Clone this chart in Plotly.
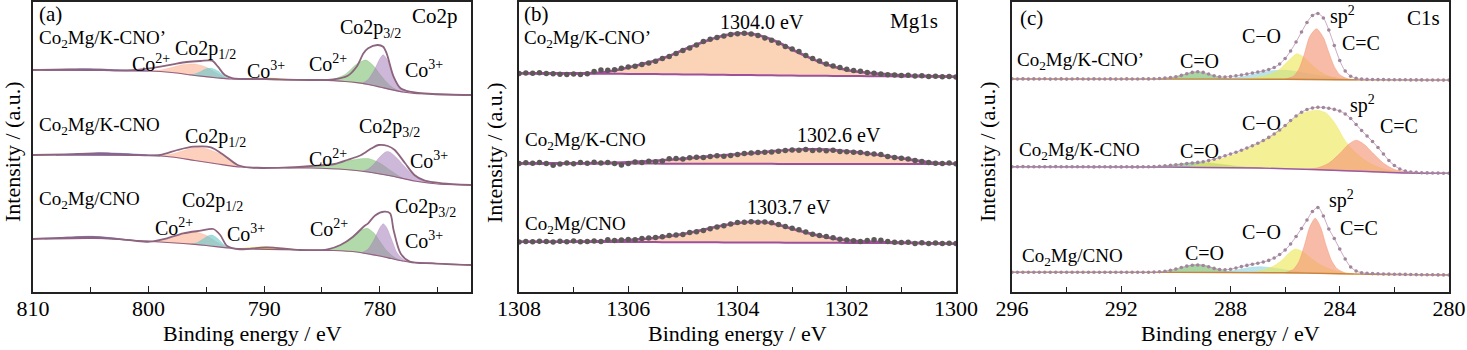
import plotly.graph_objects as go

W, H = 1467, 350
FONT = "Liberation Serif"

# ================= Panel (a): Co2p =================
# --- top: Co2Mg/K-CNO' ---
a1_env_x = [810, 807, 804.2, 801.9, 799.9, 797.9, 796.7, 795.5, 794.5, 794.0, 793.4, 792.7, 789.8, 785.4, 784.0, 782.8, 782.0, 781.4, 781.0, 780.2, 779.7, 779.4, 778.8, 778.2, 777.4, 775.4, 772.1]
a1_env_y = [222, 222.6, 222.3, 221.6, 223.7, 227.7, 230, 231, 231.3, 225.3, 217, 213.7, 213, 212, 212.7, 216, 225.3, 238.7, 243.7, 247, 245.3, 238.7, 215.3, 203.7, 200.3, 198, 197]
a1_bg_x = [810, 804, 800, 798, 796, 794, 793, 790, 785, 784, 783, 782, 781, 780, 779, 778, 777, 775, 772.1]
a1_bg_y = [221.8, 221.5, 221, 219.5, 216.5, 214, 213, 212.5, 211.8, 211.3, 210.5, 209.3, 207.5, 205, 202.3, 200, 198.7, 197.8, 197]
a1_blue_x = [809, 807, 805.5, 804, 802, 800]
a1_blue_lo = [221.8, 221.7, 221.6, 221.5, 221.3, 221.0]
a1_blue_h = [0, 1.0, 1.6, 1.3, 0.6, 0]
a1_orange_x = [800, 799, 798, 797, 796, 795, 794, 793]
a1_orange_lo = [221, 220.4, 219.5, 218, 216.5, 215.2, 214, 213]
a1_orange_h = [0, 1.5, 5, 9.5, 11.5, 9.5, 4, 0]
a1_teal_x = [796.5, 796, 795.5, 795, 794.5, 794, 793.5, 793]
a1_teal_lo = [217.2, 216.5, 215.8, 215.2, 214.6, 214, 213.5, 213]
a1_teal_h = [0, 1.5, 4.5, 8, 9, 7, 3, 0]
a1_yellow_x = [791.5, 790.5, 789.5, 788.5, 787.5]
a1_yellow_lo = [212.8, 212.6, 212.5, 212.3, 212.2]
a1_yellow_h = [0, 1, 1.5, 0.8, 0]
a1_green_x = [785, 784, 783, 782, 781.2, 780.5, 780, 779.5, 779, 778.5, 778]
a1_green_lo = [211.8, 211.3, 210.5, 209.3, 207.9, 206.2, 205, 203.6, 202.3, 201, 200]
a1_green_h = [0, 1.5, 7, 18.5, 24, 19.5, 13, 7.5, 3.2, 1, 0]
a1_purple_x = [781.5, 781, 780.5, 780, 779.7, 779.4, 779, 778.5, 778, 777.5]
a1_purple_lo = [208.4, 207.5, 206.2, 205, 204.2, 203.3, 202.3, 201, 200, 199.3]
a1_purple_h = [0, 5, 15, 28, 33, 30, 20, 7, 2, 0]

# --- middle: Co2Mg/K-CNO ---
a2_env_x = [810, 807.1, 804.2, 801.3, 799, 797.5, 796.1, 794.6, 793.5, 792.3, 791.2, 788.3, 785.9, 783.9, 782.8, 781.6, 780.7, 780.1, 779.3, 778.7, 777.8, 777.0, 776.1, 774.6, 772.1]
a2_env_y = [137, 137.7, 138.7, 137, 137, 142, 145.3, 144.7, 137, 127, 124.3, 124.3, 126, 128, 132, 137, 143.7, 147, 146, 142, 128.7, 117, 111.3, 108.7, 107]
a2_bg_x = [810, 800, 798, 796, 794, 792, 790, 786, 783, 781, 779, 777, 775, 772.1]
a2_bg_y = [137, 136.5, 135, 131.5, 128, 125, 124.5, 124, 122.5, 120, 116, 111, 108, 107]
a2_blue_x = [808, 806, 804, 802, 800, 799]
a2_blue_lo = [136.9, 136.8, 136.7, 136.6, 136.5, 136.2]
a2_blue_h = [0, 1.5, 2.5, 1.8, 0.6, 0]
a2_orange_x = [799, 798, 797, 796, 795.5, 795, 794, 793, 792.5, 792]
a2_orange_lo = [136.2, 135, 133.3, 131.5, 130.6, 129.8, 128, 126.5, 125.7, 125]
a2_orange_h = [0, 3, 8, 13, 14, 13.5, 11, 7, 3, 0]
a2_green_x = [788, 787, 786, 785, 784, 783, 782, 781, 780, 779, 778]
a2_green_lo = [124.3, 124.2, 124, 123.5, 123, 122.5, 121.3, 120, 118, 116, 113.5]
a2_green_h = [0, 0.5, 1.5, 3, 5, 8, 11.5, 13.5, 11, 5, 0]
a2_purple_x = [781.5, 781, 780.5, 780, 779.5, 779.3, 779, 778.5, 778, 777.5, 777, 776.5, 776, 775.5]
a2_purple_lo = [120.6, 120, 119, 118, 117, 116.6, 116, 114.8, 113.5, 112.2, 111, 110, 109.3, 108.6]
a2_purple_h = [0, 3, 9, 17, 23, 24, 23, 19, 14, 9, 5, 2.5, 1, 0]

# --- bottom: Co2Mg/CNO ---
a3_env_x = [810, 807.1, 804.2, 801.3, 799.9, 798.4, 797.0, 795.5, 794.4, 793.8, 793.2, 792.1, 789.8, 786.9, 784.5, 783.4, 782.3, 781.4, 781.0, 780.4, 779.6, 779.1, 778.8, 778.2, 777.4, 775.4, 772.1]
a3_env_y = [53, 54.3, 54.7, 51.3, 50.3, 53.7, 58.7, 61.3, 63, 57, 46, 42.7, 44.7, 42, 42.7, 47, 55.3, 65.3, 68.7, 76.5, 80.3, 78.7, 62, 38.7, 30.3, 28.7, 27]
a3_bg_x = [810, 804, 801, 799, 797, 795, 793, 791, 786, 784, 782, 780, 779, 778, 777, 775, 772.1]
a3_bg_y = [53, 53.5, 51.5, 50, 48.5, 46.5, 44, 43, 42, 41.5, 40, 36, 33.5, 31, 29.5, 28.5, 27]
a3_blue_x = [809, 807, 805, 803, 801.5]
a3_blue_lo = [53.1, 53.3, 53.5, 52.8, 51.8]
a3_blue_h = [0, 1.5, 2.2, 1.2, 0]
a3_orange_x = [799.5, 798.5, 797.5, 796.5, 795.9, 795, 794, 793]
a3_orange_lo = [50.4, 49.6, 48.9, 48, 47.4, 46.5, 45.3, 44]
a3_orange_h = [0, 3, 8, 12, 12.5, 10, 4, 0]
a3_teal_x = [796.3, 795.8, 795.3, 794.8, 794.5, 794, 793.5, 793]
a3_teal_lo = [47.8, 47.3, 46.8, 46.3, 45.9, 45.3, 44.6, 44]
a3_teal_h = [0, 2, 6, 10, 11, 8, 3, 0]
a3_yellow_x = [792, 791, 790, 789, 788, 787]
a3_yellow_lo = [43.5, 43, 42.8, 42.6, 42.4, 42.2]
a3_yellow_h = [0, 1.5, 2.5, 2, 1, 0]
a3_green_x = [785, 784, 783, 782, 781.1, 780.5, 780, 779.5, 779, 778.5, 778]
a3_green_lo = [41.8, 41.5, 40.8, 40, 38.2, 37, 36, 34.8, 33.5, 32.2, 31]
a3_green_h = [0, 2.5, 8.5, 19, 25.5, 22, 15, 8, 3.5, 1, 0]
a3_purple_x = [781.5, 781, 780.5, 780, 779.7, 779.4, 779, 778.5, 778, 777.5]
a3_purple_lo = [39, 38, 37, 36, 35.3, 34.5, 33.5, 32.2, 31, 30.2]
a3_purple_h = [0, 5, 15, 28, 33, 30, 20, 7, 2, 0]

# ================= Panel (b): Mg1s =================
b_fit_x = [1308, 1307.75, 1307.5, 1307.25, 1307, 1306.75, 1306.5, 1306.25, 1306, 1305.75, 1305.5, 1305.25, 1305, 1304.75, 1304.5, 1304.25, 1304, 1303.75, 1303.5, 1303.25, 1303, 1302.75, 1302.5, 1302.25, 1302, 1301.75, 1301.5, 1301.25, 1301, 1300.75, 1300.5, 1300.25, 1300]
b1_fit = [218.7, 218.7, 218.6, 218.6, 218.6, 218.8, 219.5, 221.5, 224.5, 227.8, 231.5, 236, 242, 247.5, 252.5, 256.5, 258.6, 258.2, 255, 249.5, 242.5, 236, 230, 225.5, 222, 220, 218.6, 217.6, 216.8, 216.3, 215.9, 215.6, 215.3]
b1_bg = [218.6, 218.5, 218.5, 218.4, 218.4, 218.3, 218.3, 218.2, 218.1, 218.0, 217.9, 217.8, 217.6, 217.5, 217.3, 217.2, 217.0, 216.9, 216.7, 216.6, 216.4, 216.3, 216.2, 216.1, 216.0, 215.9, 215.8, 215.7, 215.6, 215.5, 215.4, 215.35, 215.3]
b2_fit = [128.6, 128.6, 128.6, 128.6, 128.7, 128.8, 129, 129.3, 129.8, 130.4, 131.2, 132.2, 133.3, 134.5, 135.7, 136.8, 137.8, 138.8, 140, 141.2, 142.2, 142.7, 142.6, 141.9, 140.8, 139.4, 137.7, 135.8, 133.8, 131.6, 129.8, 128.6, 128.2]
b2_bg = [128.6, 128.6, 128.6, 128.5, 128.5, 128.5, 128.5, 128.4, 128.4, 128.4, 128.4, 128.3, 128.3, 128.3, 128.3, 128.2, 128.2, 128.2, 128.2, 128.1, 128.1, 128.1, 128.1, 128.0, 128.0, 128.0, 128.0, 127.9, 127.9, 127.9, 127.9, 127.9, 127.9]
b3_fit = [50.3, 50.3, 50.3, 50.3, 50.4, 50.5, 50.8, 51.3, 52, 53, 54.3, 56, 58, 60.8, 63.8, 66.8, 69, 70.2, 69.8, 67.2, 63.3, 59.5, 56.2, 53.6, 51.8, 50.8, 50.2, 49.8, 49.5, 49.2, 48.8, 48.5, 48.2]
b3_bg = [50.3, 50.3, 50.2, 50.2, 50.2, 50.1, 50.1, 50.0, 50.0, 49.9, 49.9, 49.8, 49.8, 49.7, 49.7, 49.6, 49.6, 49.5, 49.4, 49.4, 49.3, 49.3, 49.2, 49.2, 49.1, 49.0, 49.0, 48.9, 48.8, 48.7, 48.5, 48.4, 48.2]

b_dot_x = [1308.0, 1307.875, 1307.75, 1307.625, 1307.5, 1307.375, 1307.25, 1307.125, 1307.0, 1306.875, 1306.75, 1306.625, 1306.5, 1306.375, 1306.25, 1306.125, 1306.0, 1305.875, 1305.75, 1305.625, 1305.5, 1305.375, 1305.25, 1305.125, 1305.0, 1304.875, 1304.75, 1304.625, 1304.5, 1304.375, 1304.25, 1304.125, 1304.0, 1303.875, 1303.75, 1303.625, 1303.5, 1303.375, 1303.25, 1303.125, 1303.0, 1302.875, 1302.75, 1302.625, 1302.5, 1302.375, 1302.25, 1302.125, 1302.0, 1301.875, 1301.75, 1301.625, 1301.5, 1301.375, 1301.25, 1301.125, 1301.0, 1300.875, 1300.75, 1300.625, 1300.5, 1300.375, 1300.25, 1300.125, 1300.0]
b1_dots = [218.5, 219.0, 218.8, 219.2, 218.6, 218.3, 217.8, 217.5, 218.0, 217.6, 218.2, 220.5, 222.0, 221.8, 222.3, 223.8, 225.0, 225.8, 227.5, 229.0, 230.8, 233.5, 235.5, 238.5, 241.5, 244.0, 247.0, 250.5, 252.8, 254.5, 256.0, 257.5, 258.3, 258.8, 258.0, 256.5, 254.0, 251.8, 249.0, 245.5, 243.0, 240.5, 236.5, 233.5, 231.0, 228.0, 226.0, 224.5, 222.8, 221.5, 220.8, 219.5, 218.8, 218.0, 217.2, 217.0, 216.5, 216.8, 216.0, 216.3, 215.5, 215.8, 215.2, 215.6, 215.0]
b2_dots = [128.5, 129.2, 128.8, 129.5, 128.6, 126.8, 128.0, 129.0, 128.3, 129.4, 128.7, 129.8, 128.9, 129.6, 128.4, 126.9, 128.6, 130.0, 129.6, 130.8, 130.2, 131.0, 133.2, 133.6, 133.0, 134.3, 134.8, 134.4, 135.6, 136.2, 135.8, 136.6, 137.4, 138.6, 139.0, 139.4, 139.8, 140.0, 140.8, 141.6, 142.0, 141.8, 142.4, 141.6, 142.0, 141.2, 141.7, 140.6, 140.2, 139.8, 139.6, 138.4, 138.0, 137.6, 135.4, 134.6, 133.8, 133.0, 131.5, 130.4, 129.6, 128.8, 128.4, 128.9, 128.2]
b3_dots = [50.0, 50.6, 50.2, 50.8, 50.4, 50.0, 50.7, 50.3, 50.9, 50.2, 50.6, 51.0, 50.4, 52.2, 51.4, 52.0, 52.6, 52.2, 53.4, 54.0, 54.6, 55.2, 56.4, 57.0, 57.6, 59.4, 60.2, 61.6, 63.2, 65.0, 66.2, 68.0, 69.4, 69.8, 70.2, 69.8, 70.0, 69.2, 67.4, 65.6, 63.8, 62.2, 60.0, 57.8, 56.6, 55.4, 54.2, 52.8, 52.0, 51.2, 50.6, 51.4, 52.2, 51.8, 50.6, 49.8, 49.4, 49.8, 48.6, 49.2, 48.4, 49.0, 48.6, 48.8, 48.4]

# ================= Panel (c): C1s =================
c_x = [296.0, 295.8, 295.6, 295.4, 295.2, 295.0, 294.8, 294.6, 294.4, 294.2, 294.0, 293.8, 293.6, 293.4, 293.2, 293.0, 292.8, 292.6, 292.4, 292.2, 292.0, 291.8, 291.6, 291.4, 291.2, 291.0,
       290.8, 290.6, 290.4, 290.2, 290.0, 289.8, 289.6, 289.4, 289.2, 289.0, 288.8, 288.6, 288.4, 288.2, 288.0, 287.8, 287.6, 287.4, 287.2, 287.0, 286.8, 286.6, 286.4, 286.2, 286.0,
       285.8, 285.6, 285.4, 285.2, 285.0, 284.8, 284.6, 284.4, 284.2, 284.0, 283.8, 283.6, 283.4, 283.2, 283.0, 282.8, 282.6, 282.4, 282.2, 282.0, 281.8, 281.6, 281.4, 281.2, 281.0,
       280.8, 280.6, 280.4, 280.2, 280.0]
c1_dots = [213.2, 213.0, 213.1, 212.9, 213.1, 213.0, 213.2, 212.9, 213.0, 213.1, 212.9, 213.0, 213.2, 213.0, 212.9, 213.1, 213.0, 213.0, 213.1, 212.9, 213.0, 213.1, 213.0, 213.0, 213.2, 213.1,
           213.3, 213.5, 213.9, 214.5, 215.3, 216.6, 218.2, 219.6, 220.2, 219.6, 218.0, 216.2, 215.2, 215.0, 215.4, 216.2, 217.0, 218.0, 219.0, 220.0, 221.0, 222.5, 224.5, 228.0, 233.5,
           241.0, 250.0, 260.0, 269.5, 276.5, 278.5, 274.0, 262.0, 246.5, 231.5, 221.0, 215.8, 213.6, 212.9, 212.6, 212.5, 212.4, 212.4, 212.3, 212.3, 212.2, 212.2, 212.1, 212.1, 212.1,
           212.0, 212.0, 212.0, 211.9, 211.9]
c2_dots = [125.3, 125.3, 125.4, 125.2, 125.3, 125.3, 125.2, 125.3, 125.4, 125.2, 125.2, 125.3, 125.2, 125.2, 125.3, 125.1, 125.2, 125.2, 125.1, 125.2, 125.1, 125.2, 125.1, 125.1, 125.2, 125.2,
           125.4, 125.7, 126.1, 126.6, 127.2, 127.8, 128.4, 129.0, 129.6, 130.3, 131.4, 132.8, 134.4, 136.2, 138.0, 139.8, 141.8, 144.0, 146.3, 148.8, 151.5, 154.6, 158.0, 162.0, 166.5,
           171.5, 176.0, 179.8, 182.5, 184.0, 184.7, 184.5, 183.8, 182.6, 181.0, 178.0, 173.5, 167.5, 161.5, 156.0, 150.5, 144.5, 138.0, 131.5, 126.5, 123.0, 121.0, 120.0, 119.6, 119.3,
           119.1, 119.0, 118.9, 118.8, 118.7]
c3_dots = [19.7, 19.8, 19.7, 19.8, 19.7, 19.7, 19.8, 19.7, 19.7, 19.8, 19.7, 19.7, 19.8, 19.7, 19.7, 19.8, 19.7, 19.7, 19.8, 19.7, 19.8, 19.7, 19.8, 19.8, 19.8, 19.8,
           19.9, 20.2, 20.8, 21.8, 23.0, 24.5, 25.9, 26.8, 27.0, 26.5, 25.2, 23.6, 22.4, 22.2, 22.8, 24.0, 25.4, 26.6, 27.8, 28.8, 30.0, 31.6, 34.0, 37.5, 42.0,
           48.0, 55.5, 63.5, 72.0, 80.5, 84.5, 76.0, 63.0, 53.5, 43.0, 33.0, 25.0, 21.0, 19.3, 18.7, 18.4, 18.2, 18.0, 17.9, 17.8, 17.7, 17.6, 17.5, 17.4, 17.3,
           17.3, 17.2, 17.1, 17.1, 17.0]

c1_bg_x = [296, 290, 286, 284, 283, 280]
c1_bg_y = [213, 212.9, 212.7, 212.3, 212.1, 211.9]
c2_bg_x = [296, 291, 289, 287, 285, 283, 281.5, 280]
c2_bg_y = [125.3, 125, 124.5, 124, 122.5, 120.5, 119, 118.7]
c3_bg_x = [296, 290, 286, 284, 283, 280]
c3_bg_y = [19.7, 19.6, 19.2, 18.3, 17.8, 17]

c1_green_x = [290.6, 290.2, 289.8, 289.5, 289.3, 289.1, 288.8, 288.4, 288.0]
c1_green_lo = [212.9] * 9
c1_green_h = [0, 1, 3.8, 6.2, 7, 6.5, 4.5, 1.5, 0]
c1_teal_x = [288.5, 288, 287.5, 287, 286.5, 286, 285.5, 285, 284.5, 284, 283.5]
c1_teal_lo = [212.85, 212.8, 212.8, 212.75, 212.7, 212.7, 212.6, 212.5, 212.4, 212.3, 212.2]
c1_teal_h = [0, 1, 3, 6, 8.5, 9, 7.5, 5, 3, 1.2, 0]
c1_yellow_x = [287.5, 287, 286.5, 286.2, 285.9, 285.57, 285.3, 285, 284.7, 284.4, 284, 283.5, 283]
c1_yellow_lo = [212.8, 212.75, 212.7, 212.7, 212.65, 212.6, 212.55, 212.5, 212.45, 212.4, 212.3, 212.2, 212.1]
c1_yellow_h = [0, 2, 5.5, 10, 18, 25.7, 22, 14, 7.5, 3.5, 1.2, 0.3, 0]
c1_salmon_x = [286, 285.7, 285.5, 285.3, 285.1, 284.85, 284.6, 284.4, 284.2, 284.0, 283.7, 283.4]
c1_salmon_lo = [212.7, 212.65, 212.6, 212.55, 212.5, 212.5, 212.45, 212.4, 212.35, 212.3, 212.2, 212.2]
c1_salmon_h = [0, 3, 10, 25, 43, 50.7, 42, 27, 13, 5, 1, 0]

c2_green_x = [291, 290.5, 290, 289.5, 289.2, 288.8, 288.3, 287.8, 287.3, 286.8]
c2_green_lo = [125, 124.9, 124.8, 124.6, 124.5, 124.4, 124.3, 124.2, 124.1, 124.0]
c2_green_h = [0, 1, 2.8, 4.5, 5, 4.6, 3.2, 1.6, 0.6, 0]
c2_yellow_x = [289.5, 288.8, 288, 287.5, 287, 286.5, 286, 285.5, 285.2, 284.85, 284.5, 284.2, 283.8, 283.4, 283, 282.6, 282.2, 281.8, 281.4]
c2_yellow_lo = [124.6, 124.4, 124.2, 124.1, 124, 123.6, 123.2, 122.9, 122.6, 122.3, 122, 121.7, 121.3, 120.9, 120.5, 120.1, 119.7, 119.3, 119]
c2_yellow_h = [0, 5.5, 12, 17.5, 24, 33, 43, 54, 57.5, 59.5, 57, 48, 30, 18, 10, 5, 2, 0.7, 0]
c2_salmon_x = [285.2, 284.8, 284.4, 284, 283.7, 283.4, 283.1, 282.8, 282.4, 282, 281.6, 281.2]
c2_salmon_lo = [122.6, 122.2, 121.8, 121.4, 121.1, 120.8, 120.5, 120.2, 119.8, 119.5, 119.2, 118.9]
c2_salmon_h = [0, 2, 7, 17, 26, 31, 27, 19, 9, 3, 0.8, 0]

c3_green_x = [290.6, 290.2, 289.8, 289.5, 289.2, 288.9, 288.6, 288.2, 287.8]
c3_green_lo = [19.6, 19.6, 19.6, 19.55, 19.55, 19.5, 19.5, 19.5, 19.45]
c3_green_h = [0, 1.5, 4.5, 7, 8, 7, 4.5, 1.5, 0]
c3_teal_x = [288.5, 288, 287.5, 287.2, 286.9, 286.5, 286, 285.5, 285]
c3_teal_lo = [19.5, 19.45, 19.4, 19.4, 19.35, 19.3, 19.2, 19.0, 18.8]
c3_teal_h = [0, 1.5, 4, 5.5, 6, 5, 3, 1.2, 0]
c3_yellow_x = [287.2, 286.8, 286.4, 286.1, 285.85, 285.63, 285.4, 285.1, 284.8, 284.5, 284.1, 283.7, 283.3]
c3_yellow_lo = [19.4, 19.35, 19.3, 19.2, 19.1, 19.0, 18.9, 18.8, 18.7, 18.5, 18.3, 18.0, 17.8]
c3_yellow_h = [0, 2.5, 7, 13, 20, 24, 22, 16, 10, 6, 2.5, 0.8, 0]
c3_salmon_x = [286, 285.7, 285.5, 285.3, 285.1, 284.9, 284.7, 284.5, 284.3, 284.1, 283.8, 283.5]
c3_salmon_lo = [19.2, 19.05, 19.0, 18.9, 18.8, 18.75, 18.7, 18.5, 18.4, 18.3, 18.1, 18.0]
c3_salmon_h = [0, 3.5, 11, 27, 46, 55, 46, 28, 13, 5, 1, 0]

# ================= Colours =================
C_ORANGE = "rgba(250,170,135,0.55)"
C_TEAL = "rgba(100,200,205,0.6)"
C_GREEN = "rgba(115,185,100,0.55)"
C_PURPLE = "rgba(165,125,185,0.55)"
C_BLUE = "rgba(60,80,200,0.75)"
C_YELLOW = "rgba(230,215,30,0.75)"
C_ENV_A = "rgb(140,100,125)"
C_BG_A = "rgb(150,95,130)"
C_B_FILL = "rgba(250,205,170,0.85)"
C_B_LINE = "rgb(158,80,155)"
C_B_DOT = "rgb(95,88,88)"
C_C_SALMON = "rgba(245,150,120,0.65)"
C_C_YELLOW = "rgba(235,230,80,0.6)"
C_C_TEAL = "rgba(140,210,220,0.6)"
C_C_GREEN = "rgba(110,185,100,0.6)"
C_C_DOT = "rgb(160,135,155)"
C_C_BG = "rgb(200,130,60)"
C_C_BG2 = "rgb(155,90,165)"


def polys(parts):
    """Join component areas (x, lower, height) into one closed-path list with gaps."""
    X, Y = [], []
    for xs, lo, h in parts:
        up = [a + b for a, b in zip(lo, h)]
        X += list(xs) + list(xs)[::-1] + [None]
        Y += up + list(lo)[::-1] + [None]
    return X, Y


def segs(parts):
    X, Y = [], []
    for xs, ys in parts:
        X += list(xs) + [None]
        Y += list(ys) + [None]
    return X, Y


fig = go.Figure()


def area(xa, ya, parts, color, lw=0.6):
    X, Y = polys(parts)
    fig.add_trace(go.Scatter(x=X, y=Y, xaxis=xa, yaxis=ya, mode="lines", fill="toself", fillcolor=color,
                             line=dict(width=lw, color=color, shape="spline", smoothing=0.7),
                             hoverinfo="skip", showlegend=False))


def lines(xa, ya, parts, color, width):
    X, Y = segs(parts)
    fig.add_trace(go.Scatter(x=X, y=Y, xaxis=xa, yaxis=ya, mode="lines",
                             line=dict(width=width, color=color, shape="spline", smoothing=0.8),
                             hoverinfo="skip", showlegend=False))


# ---- panel a ----
area("x", "y", [(a1_blue_x, a1_blue_lo, a1_blue_h), (a2_blue_x, a2_blue_lo, a2_blue_h), (a3_blue_x, a3_blue_lo, a3_blue_h)], C_BLUE)
area("x", "y", [(a1_orange_x, a1_orange_lo, a1_orange_h), (a2_orange_x, a2_orange_lo, a2_orange_h), (a3_orange_x, a3_orange_lo, a3_orange_h)], C_ORANGE)
area("x", "y", [(a1_teal_x, a1_teal_lo, a1_teal_h), (a3_teal_x, a3_teal_lo, a3_teal_h)], C_TEAL)
area("x", "y", [(a1_yellow_x, a1_yellow_lo, a1_yellow_h), (a3_yellow_x, a3_yellow_lo, a3_yellow_h)], C_YELLOW)
area("x", "y", [(a1_green_x, a1_green_lo, a1_green_h), (a2_green_x, a2_green_lo, a2_green_h), (a3_green_x, a3_green_lo, a3_green_h)], C_GREEN)
area("x", "y", [(a1_purple_x, a1_purple_lo, a1_purple_h), (a2_purple_x, a2_purple_lo, a2_purple_h), (a3_purple_x, a3_purple_lo, a3_purple_h)], C_PURPLE)
lines("x", "y", [(a1_bg_x, a1_bg_y), (a2_bg_x, a2_bg_y), (a3_bg_x, a3_bg_y)], C_BG_A, 1.2)
lines("x", "y", [(a1_env_x, a1_env_y), (a2_env_x, a2_env_y), (a3_env_x, a3_env_y)], C_ENV_A, 1.8)

# ---- panel b ----
bX, bY = [], []
for fit, bg in [(b1_fit, b1_bg), (b2_fit, b2_bg), (b3_fit, b3_bg)]:
    bX += b_fit_x + b_fit_x[::-1] + [None]
    bY += fit + bg[::-1] + [None]
fig.add_trace(go.Scatter(x=bX, y=bY, xaxis="x2", yaxis="y2", mode="lines", fill="toself", fillcolor=C_B_FILL,
                         line=dict(width=0, color=C_B_FILL), hoverinfo="skip", showlegend=False))
lines("x2", "y2", [(b_fit_x, b1_bg), (b_fit_x, b2_bg), (b_fit_x, b3_bg)], C_B_LINE, 2)
lines("x2", "y2", [(b_fit_x, b1_fit), (b_fit_x, b2_fit), (b_fit_x, b3_fit)], C_B_LINE, 2.6)
dX, dY = segs([(b_dot_x, b1_dots), (b_dot_x, b2_dots), (b_dot_x, b3_dots)])
fig.add_trace(go.Scatter(x=dX, y=dY, xaxis="x2", yaxis="y2", mode="markers",
                         marker=dict(size=5.5, color=C_B_DOT, line=dict(width=0)), hoverinfo="skip", showlegend=False))

# ---- panel c ----
area("x3", "y3", [(c1_green_x, c1_green_lo, c1_green_h), (c2_green_x, c2_green_lo, c2_green_h), (c3_green_x, c3_green_lo, c3_green_h)], C_C_GREEN)
area("x3", "y3", [(c1_teal_x, c1_teal_lo, c1_teal_h), (c3_teal_x, c3_teal_lo, c3_teal_h)], C_C_TEAL)
area("x3", "y3", [(c1_yellow_x, c1_yellow_lo, c1_yellow_h), (c2_yellow_x, c2_yellow_lo, c2_yellow_h), (c3_yellow_x, c3_yellow_lo, c3_yellow_h)], C_C_YELLOW)
area("x3", "y3", [(c1_salmon_x, c1_salmon_lo, c1_salmon_h), (c2_salmon_x, c2_salmon_lo, c2_salmon_h), (c3_salmon_x, c3_salmon_lo, c3_salmon_h)], C_C_SALMON, 0.8)
lines("x3", "y3", [(c1_bg_x, c1_bg_y), (c3_bg_x, c3_bg_y)], C_C_BG, 1.4)
lines("x3", "y3", [(c2_bg_x, c2_bg_y)], C_C_BG2, 1.4)
cX, cY = segs([(c_x, c1_dots), (c_x, c2_dots), (c_x, c3_dots)])
fig.add_trace(go.Scatter(x=cX, y=cY, xaxis="x3", yaxis="y3", mode="lines+markers",
                         line=dict(width=1, color="rgba(190,150,180,0.8)", shape="spline"),
                         marker=dict(size=3.6, color=C_C_DOT), hoverinfo="skip", showlegend=False))


# ================= Layout =================
def px(x):
    return x / W


def py(y):
    return 1 - y / H


ydom = [py(292), py(2)]


def xaxis(dom, rng, dtick, mdtick, tick0):
    return dict(domain=dom, range=rng, tickmode="linear", tick0=tick0, dtick=dtick,
                ticks="inside", ticklen=6, tickwidth=1.2, tickcolor="#222", ticklabelstandoff=-4,
                minor=dict(ticks="inside", ticklen=5, tickwidth=1.2, tickcolor="#222", dtick=mdtick, showgrid=False),
                showline=True, mirror=True, linecolor="#222", linewidth=1.5,
                showgrid=False, zeroline=False, automargin=False,
                tickfont=dict(family=FONT, size=22, color="black"))


def yaxis(anchor):
    return dict(domain=ydom, range=[0, 290], showticklabels=False, ticks="",
                showline=True, mirror=True, linecolor="#222", linewidth=1.5,
                showgrid=False, zeroline=False, anchor=anchor, automargin=False)


fig.update_layout(
    width=W, height=H, margin=dict(l=0, r=0, t=0, b=0),
    paper_bgcolor="white", plot_bgcolor="white", showlegend=False,
    font=dict(family=FONT, size=20, color="black"),
    xaxis=dict(xaxis([px(33), px(471)], [810, 772.1], 10, 5, 810), anchor="y"),
    yaxis=yaxis("x"),
    xaxis2=dict(xaxis([px(519), px(956)], [1308, 1300], 2, 1, 1300), anchor="y2"),
    yaxis2=yaxis("x2"),
    xaxis3=dict(xaxis([px(1012), px(1449)], [296, 280], 4, 2, 280), anchor="y3"),
    yaxis3=yaxis("x3"),
)

SUB2 = "Co<sub>2</sub>Mg"
P12 = "Co2p<sub>1/2</sub>"
P32 = "Co2p<sub>3/2</sub>"
CO2 = "Co<sup>2+</sup>"
CO3 = "Co<sup>3+</sup>"
SP2 = "sp<sup>2</sup>"

texts = [
    # panel a
    ("(a)", 37, 14, 21, "left"), ("Co2p", 460, 16, 21, "right"),
    (SUB2 + "/K-CNO’", 37, 39, 19, "left"), (P12, 173, 49, 20, "left"), (CO2, 130, 63, 20, "left"),
    (CO3, 245, 70, 20, "left"), (CO2, 307, 63, 20, "left"), (P32, 338, 29, 20, "left"), (CO3, 403, 69, 20, "left"),
    (SUB2 + "/K-CNO", 37, 126, 19, "left"), (P12, 183, 137, 20, "left"), (P32, 357, 128, 20, "left"),
    (CO2, 307, 158, 20, "left"), (CO3, 408, 160, 20, "left"),
    (SUB2 + "/CNO", 37, 200, 19, "left"), (P12, 180, 201, 20, "left"), (P32, 393, 207, 20, "left"),
    (CO2, 153, 227, 20, "left"), (CO3, 225, 233, 20, "left"), (CO2, 308, 228, 20, "left"), (CO3, 403, 240, 20, "left"),
    # panel b
    ("(b)", 522, 14, 21, "left"), ("1304.0 eV", 718, 22, 20, "left"), ("Mg1s", 940, 21, 21, "right"),
    (SUB2 + "/K-CNO’", 522, 39, 19, "left"), (SUB2 + "/K-CNO", 523, 141, 19, "left"),
    ("1302.6 eV", 795, 135, 20, "left"), ("1303.7 eV", 745, 207, 20, "left"), (SUB2 + "/CNO", 523, 225, 19, "left"),
    # panel c
    ("(c)", 1018, 18, 21, "left"), (SP2, 1328, 16, 20, "left"), ("C1s", 1442, 18, 21, "right"),
    ("C−O", 1240, 36, 20, "left"), ("C=C", 1340, 43, 20, "left"),
    (SUB2 + "/K-CNO’", 1015, 61, 19, "left"), ("C=O", 1178, 61, 20, "left"),
    (SP2, 1348, 104, 20, "left"), ("C−O", 1240, 123, 20, "left"), ("C=C", 1378, 126, 20, "left"),
    (SUB2 + "/K-CNO", 1017, 151, 19, "left"), ("C=O", 1178, 151, 20, "left"),
    (SP2, 1327, 199, 20, "left"), ("C−O", 1240, 232, 20, "left"), ("C=C", 1338, 228, 20, "left"),
    (SUB2 + "/CNO", 1020, 257, 19, "left"), ("C=O", 1183, 253, 20, "left"),
]
annotations = []
for t, x, y, s, anc in texts:
    annotations.append(dict(text=t, x=px(x), y=py(y), xref="paper", yref="paper", xanchor=anc, yanchor="middle",
                            showarrow=False, font=dict(family=FONT, size=s, color="black")))

for cx in [12, 494, 987]:
    annotations.append(dict(text="Intensity / (a.u.)", x=px(cx), y=py(152), xref="paper", yref="paper",
                            xanchor="center", yanchor="middle", textangle=-90, showarrow=False,
                            font=dict(family=FONT, size=22, color="black")))
for cx in [252, 737.5, 1230.5]:
    annotations.append(dict(text="Binding energy / eV", x=px(cx), y=py(333), xref="paper", yref="paper",
                            xanchor="center", yanchor="middle", showarrow=False,
                            font=dict(family=FONT, size=22, color="black")))
fig.update_layout(annotations=annotations)

fig.write_html("out.html")
